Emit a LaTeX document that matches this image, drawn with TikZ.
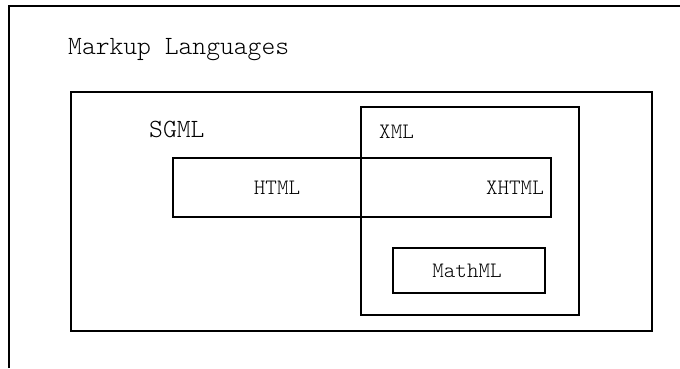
\documentclass[tikz,border=0pt]{standalone}
\usepackage{fontspec}
\setmonofont{Latin Modern Mono Light}
\begin{document}
\begin{tikzpicture}[x=1pt,y=-1pt,
  box/.style={draw=black,line width=2.2pt,line join=miter},
  bigtxt/.style={font=\ttfamily\fontsize{26.3}{29}\selectfont,anchor=base west,inner sep=0pt},
  smalltxt/.style={font=\ttfamily\fontsize{22}{24}\selectfont,inner sep=0pt}]
  \useasboundingbox (0,0) rectangle (680,368);
  % outer frame, open to the right and below
  \coordinate (frameBL) at (9,368);
  \coordinate (frameTL) at (9,6);
  \coordinate (frameTR) at (680,6);
  \draw[box] (frameBL) -- (frameTL) -- (frameTR);
  \node[bigtxt] (title) at (68,54) {Markup Languages};
  % SGML
  \draw[box] (71,92) rectangle (652,331);
  \node[bigtxt] (sgml) at (149,137) {SGML};
  % XML
  \draw[box] (361,107) rectangle (579,315);
  \node[smalltxt,anchor=base west] (xml) at (379,138) {XML};
  % HTML / XHTML
  \draw[box] (173,158) rectangle (551,217);
  \node[smalltxt,anchor=base] (html) at (277,194) {HTML};
  \node[smalltxt,anchor=base east] (xhtml) at (544,194) {XHTML};
  % MathML
  \draw[box] (393,248) rectangle (545,293);
  \node[smalltxt,anchor=base] (mathml) at (467,277) {MathML};
\end{tikzpicture}
\end{document}
